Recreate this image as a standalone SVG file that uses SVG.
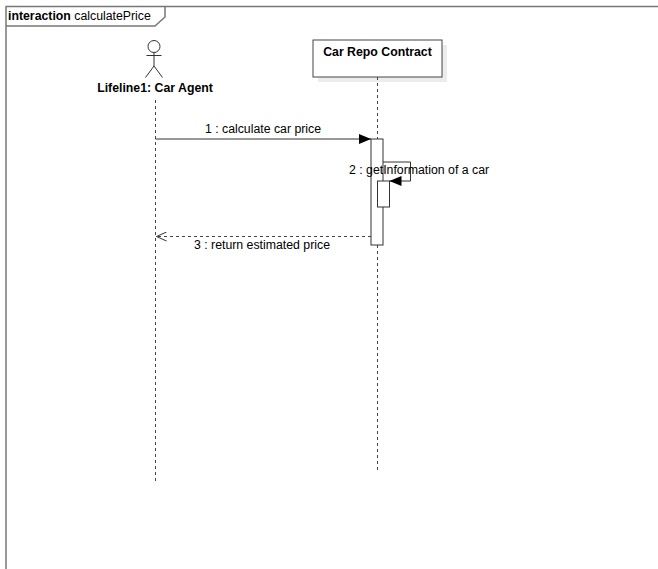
<svg xmlns="http://www.w3.org/2000/svg" width="658" height="569" viewBox="0 0 658 569">
<defs>
<style>
text{font-family:"Liberation Sans",Arial,sans-serif;font-size:12.3px;fill:#000}
.b{font-weight:bold}
.frame{fill:none;stroke:#777;stroke-width:1.5}
.ll{stroke:#444;stroke-width:1;stroke-dasharray:3,3;fill:none}
.msg{stroke:#333;stroke-width:1;fill:none}
.ret{stroke:#444;stroke-width:1;stroke-dasharray:3,3;fill:none}
.act{fill:#fff;stroke:#333;stroke-width:1}
</style>
<marker id="fill" viewBox="0 0 12 10" refX="12" refY="5" markerWidth="12" markerHeight="10" markerUnits="userSpaceOnUse" orient="auto">
<path d="M0,0 L12,5 L0,10 Z" fill="#000"/>
</marker>
<marker id="open" viewBox="0 0 12 10" refX="11.5" refY="5" markerWidth="12" markerHeight="10" markerUnits="userSpaceOnUse" orient="auto">
<path d="M1,0.5 L11,5 L1,9.5" fill="none" stroke="#333" stroke-width="1"/>
</marker>
</defs>
<rect width="658" height="569" fill="#fff"/>
<g id="frame">
<path class="frame" d="M658,6.5 H6 V569"/>
<path class="frame" d="M6,26 H155 L165,17 V6.5"/>
<text x="8" y="20"><tspan class="b">interaction</tspan> calculatePrice</text>
</g>
<g id="lifeline1">
<g fill="none" stroke="#333" stroke-width="1">
<circle cx="154" cy="46.5" r="6"/>
<path d="M154,52.5 V66 M146.5,55.5 H161.5 M154,66 L145.5,77.5 M154,66 L162.5,77.5"/>
</g>
<text class="b" x="155" y="92" text-anchor="middle">Lifeline1: Car Agent</text>
<line class="ll" x1="155.5" y1="100" x2="155.5" y2="481"/>
</g>
<g id="carRepo">
<rect x="318" y="45" width="129" height="37" fill="#ececec"/>
<rect x="313" y="40" width="129" height="37" fill="#fff" stroke="#444" stroke-width="1"/>
<text class="b" x="377.5" y="56" text-anchor="middle">Car Repo Contract</text>
<line class="ll" x1="377.5" y1="77" x2="377.5" y2="473"/>
<rect class="act" x="371" y="139" width="12" height="106"/>
<rect class="act" x="377.5" y="181" width="12" height="26"/>
</g>
<g id="connectors">
<line class="msg" x1="155.5" y1="139" x2="371" y2="139" marker-end="url(#fill)"/>
<text x="263" y="133" text-anchor="middle">1 : calculate car price</text>
<path class="msg" d="M383,162 H410.5 V181 H389.5" marker-end="url(#fill)"/>
<text x="349" y="173.5">2 : getInformation of a car</text>
<line class="ret" x1="371" y1="236.5" x2="156" y2="236.5" marker-end="url(#open)"/>
<text x="262" y="248.5" text-anchor="middle">3 : return estimated price</text>
</g>
</svg>
